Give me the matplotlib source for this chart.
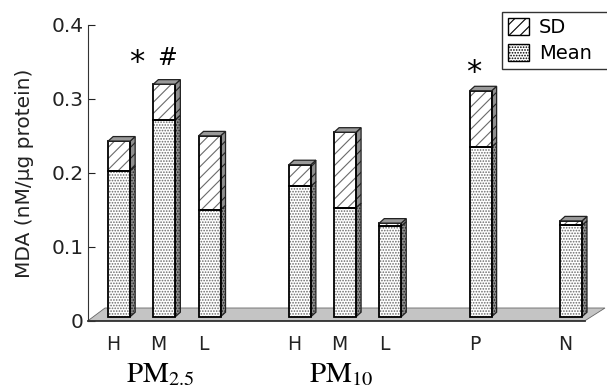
import numpy as np
import matplotlib.pyplot as plt
from matplotlib.patches import Patch, Polygon
from matplotlib import transforms

plt.rcParams['font.family'] = ['DejaVu Sans']
plt.rcParams['mathtext.fontset'] = 'stix'
plt.rcParams['hatch.linewidth'] = 0.8

# data
labels = ['H', 'M', 'L', 'H', 'M', 'L', 'P', 'N']
mean = [0.203, 0.272, 0.150, 0.182, 0.153, 0.128, 0.235, 0.129]
sd = [0.040, 0.048, 0.100, 0.029, 0.102, 0.004, 0.076, 0.006]
groups = ['$\\mathrm{PM}_{2.5}$', '$\\mathrm{PM}_{10}$']
group_members = [[0, 1, 2], [3, 4, 5]]
marks = [(1, '*', -35, 22), (1, '#', -7, 26), (6, '*', -15, 18)]  # (bar, symbol, dx px, dy px)

# layout
pos = np.array([0, 1, 2, 4, 5, 6, 8, 10], dtype=float)
W, H = 607, 390
ax_l, ax_r, ax_b, ax_t = 88, 585, 69.3, 365
xmin, xmax = -0.69, 10.31
ymin, ymax = 0, 0.4
px_x = (ax_r - ax_l) / (xmax - xmin)   # pixels per x unit
px_y = (ax_t - ax_b) / (ymax - ymin)   # pixels per y unit
floor = 4 / px_y                       # bars stand a little behind the front edge
bw = 22 / px_x
ddx, ddy = 5 / px_x, 4.5 / px_y
PT = 0.72  # points per pixel

mean_hatch, sd_hatch = '......', '///'
hatch_col = '#6a6a6a'

fig = plt.figure(figsize=(W / 100, H / 100), dpi=100)
ax = fig.add_axes([ax_l / W, ax_b / H, (ax_r - ax_l) / W, (ax_t - ax_b) / H])
ax.set_xlim(xmin, xmax)
ax.set_ylim(ymin, ymax)

# floor
fdx, fdy = 20 / px_x, 12.7 / px_y
ax.add_patch(Polygon([(xmin, 0), (xmax, 0), (xmax + fdx, fdy), (xmin + fdx * 0.85, fdy)],
                     closed=True, facecolor='#c4c4c4', edgecolor='#666666', lw=0.6,
                     clip_on=False, zorder=1))
ax.plot([xmin, xmax], [0, 0], color='#333333', lw=1.3, clip_on=False, zorder=2)

mean = np.array(mean)
sd = np.array(sd)
top = mean + sd

for i, x in enumerate(pos):
    x0, x1 = x - bw / 2, x + bw / 2
    # front faces: hatch layer then outline
    for lo, h, ht in [(floor, mean[i] - floor, mean_hatch), (mean[i], sd[i], sd_hatch)]:
        ax.bar(x, h, bottom=lo, width=bw, facecolor='white', edgecolor=hatch_col,
               hatch=ht, lw=0, zorder=3)
        ax.bar(x, h, bottom=lo, width=bw, fill=False, edgecolor='black', lw=1.3, zorder=4)
    # side faces
    for lo, hi, ht in [(floor, mean[i], mean_hatch), (mean[i], top[i], sd_hatch)]:
        ax.add_patch(Polygon([(x1, lo), (x1 + ddx, lo + ddy), (x1 + ddx, hi + ddy), (x1, hi)],
                             closed=True, facecolor='#8e8e8e', edgecolor='#222222',
                             hatch=ht, lw=0.9, zorder=3, clip_on=False))
    # top face
    ax.add_patch(Polygon([(x0, top[i]), (x1, top[i]), (x1 + ddx, top[i] + ddy), (x0 + ddx, top[i] + ddy)],
                         closed=True, facecolor='#9a9a9a', edgecolor='#222222',
                         lw=0.9, zorder=4, clip_on=False))

# significance marks
for i, s, dx, dy in marks:
    ax.annotate(s, xy=(pos[i], top[i]), xytext=(dx * PT, dy * PT),
                textcoords='offset points', ha='left', va='center',
                fontsize=22 if s == '*' else 17)

# axes styling
for s in ['top', 'right', 'bottom']:
    ax.spines[s].set_visible(False)
ax.spines['left'].set_color('#333333')
ax.set_yticks([0, 0.1, 0.2, 0.3, 0.4])
ax.set_yticklabels(['0', '0.1', '0.2', '0.3', '0.4'])
ax.tick_params(axis='y', direction='in', length=5, labelsize=14.5, pad=3, colors='#222222')
ax.set_xticks(pos)
ax.set_xticklabels(labels)
ax.tick_params(axis='x', length=0, labelsize=13.5, pad=10, colors='#222222')
shift = transforms.ScaledTranslation(-6 / 100, 0, fig.dpi_scale_trans)
for lab in ax.get_xticklabels():
    lab.set_transform(lab.get_transform() + shift)

ax.set_ylabel('MDA (nM/\u03bcg protein)', fontsize=14.5, labelpad=13, color='#222222')

# group labels
for g, idx in zip(groups, group_members):
    ax.annotate(g, xy=(pos[idx].mean(), 0), xytext=(-4 * PT, -53 * PT), textcoords='offset points',
                ha='center', va='center', fontsize=21, annotation_clip=False)

# legend (runs off the right edge, as in the original)
handles = [Patch(facecolor='white', edgecolor='black', hatch=sd_hatch, label='SD'),
           Patch(facecolor='white', edgecolor='black', hatch=mean_hatch, label='Mean')]
leg = fig.legend(handles=handles, loc='upper left',
                 bbox_to_anchor=(502 / W, 1 - 66 / H, 112 / W, 54 / H), mode='expand',
                 frameon=True, fancybox=False, edgecolor='black', fontsize=14,
                 borderaxespad=0, handlelength=1.1, handleheight=1.0, labelspacing=0.35,
                 borderpad=0.3, handletextpad=0.5)
leg.get_frame().set_linewidth(1.0)

fig.savefig('out.png', dpi=100)
